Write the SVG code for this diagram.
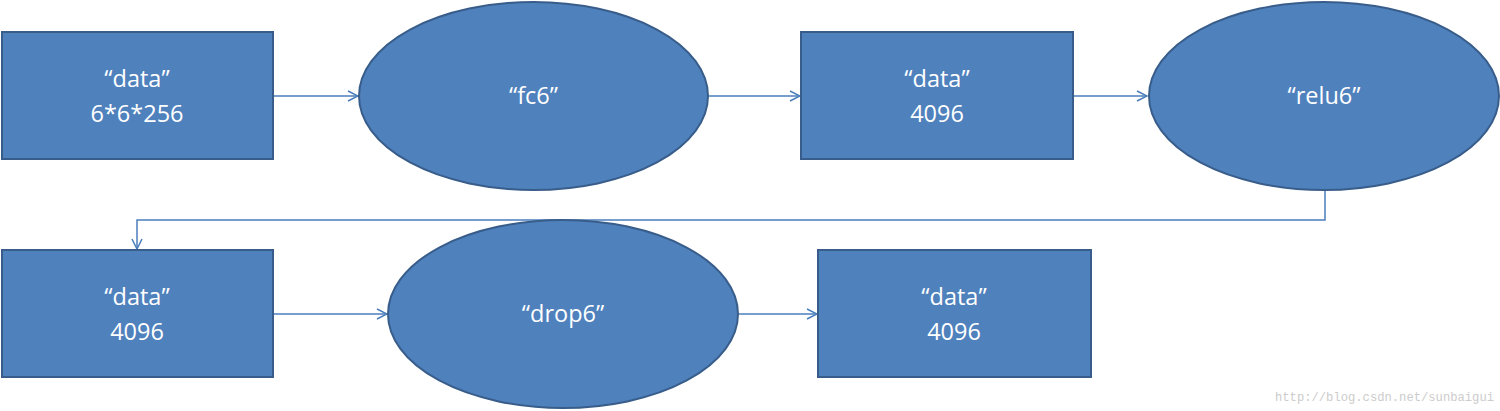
<svg xmlns="http://www.w3.org/2000/svg" width="1500" height="411" viewBox="0 0 1500 411">
<style>
.n{fill:#4f81bd;stroke:#385d8a;stroke-width:2}
.t{fill:#fff;font-family:"Open Sans","Noto Sans","Liberation Sans",sans-serif;font-size:23.5px;text-anchor:middle}
.c{fill:none;stroke:#4a7ebb;stroke-width:1.5}
.w{fill:#cccccc;font-family:"Liberation Mono",monospace;font-size:12px}
</style>
<defs>
<marker id="a" viewBox="0 0 12 12" refX="11" refY="6" markerWidth="12" markerHeight="12" markerUnits="userSpaceOnUse" orient="auto">
<path d="M1,1 L11,6 L1,11" fill="none" stroke="#4a7ebb" stroke-width="1.5"/>
</marker>
</defs>
<g id="connectors">
<line class="c" x1="274" y1="96" x2="358" y2="96" marker-end="url(#a)"/>
<line class="c" x1="709" y1="96" x2="800" y2="96" marker-end="url(#a)"/>
<line class="c" x1="1074" y1="96" x2="1147" y2="96" marker-end="url(#a)"/>
<polyline class="c" points="1325,190 1325,220 137,220 137,249" marker-end="url(#a)"/>
<line class="c" x1="274" y1="314" x2="387" y2="314" marker-end="url(#a)"/>
<line class="c" x1="739" y1="314" x2="817" y2="314" marker-end="url(#a)"/>
</g>
<g id="data1">
<rect class="n" x="2" y="32" width="271" height="127"/>
<text class="t" x="137" y="87">“data”</text>
<text class="t" x="137" y="122">6*6*256</text>
</g>
<g id="fc6">
<ellipse class="n" cx="533.5" cy="96" rx="174.5" ry="94"/>
<text class="t" x="533.5" y="104">“fc6”</text>
</g>
<g id="data2">
<rect class="n" x="801" y="32" width="272" height="127"/>
<text class="t" x="937" y="87">“data”</text>
<text class="t" x="937" y="122">4096</text>
</g>
<g id="relu6">
<ellipse class="n" cx="1324" cy="96" rx="175" ry="94"/>
<text class="t" x="1324" y="104">“relu6”</text>
</g>
<g id="data3">
<rect class="n" x="2" y="250" width="271" height="127"/>
<text class="t" x="137" y="305">“data”</text>
<text class="t" x="137" y="340">4096</text>
</g>
<g id="drop6">
<ellipse class="n" cx="563" cy="314" rx="175" ry="94"/>
<text class="t" x="563" y="322">“drop6”</text>
</g>
<g id="data4">
<rect class="n" x="818" y="250" width="273" height="127"/>
<text class="t" x="954" y="305">“data”</text>
<text class="t" x="954" y="340">4096</text>
</g>
<text class="w" x="1275" y="401" textLength="219" lengthAdjust="spacingAndGlyphs">http://blog.csdn.net/sunbaigui</text>
</svg>
